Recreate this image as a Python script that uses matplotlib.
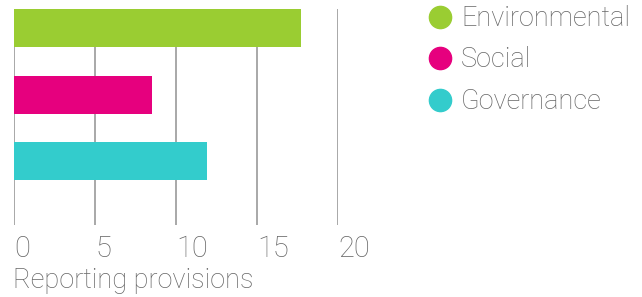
import matplotlib
matplotlib.use("Agg")
import matplotlib.pyplot as plt
from matplotlib.lines import Line2D

categories = ["Environmental", "Social", "Governance"]
values = [17.7, 8.5, 11.9]
colors = ["#9ACD32", "#E6007E", "#33CCCC"]
xticks = [0, 5, 10, 15, 20]
xlabel = "Reporting provisions"

plt.rcParams['font.family'] = ['Roboto', 'DejaVu Sans']
TEXT = "#666666"

fig = plt.figure(figsize=(6.42, 2.97), dpi=100)
ax = fig.add_axes([14/642, 1-225/297, (338-14)/642, (225-9)/297])

ypos = list(range(len(categories)))
ax.barh(ypos, values, height=0.57, color=colors, zorder=3)
ax.set_ylim(2.96, -0.285)
ax.set_xlim(0, 20)
ax.set_xticks(xticks)
ax.set_xticklabels([str(t) for t in xticks])
for lbl in ax.get_xticklabels():
    lbl.set_ha('left')
    lbl.set_fontweight('light')
ax.tick_params(axis='x', length=0, pad=7, labelsize=21, colors=TEXT)
ax.set_yticks([])
for s in ax.spines.values():
    s.set_visible(False)
ax.grid(axis='x', color='#999999', linewidth=1.2, zorder=0)
ax.set_axisbelow(True)

fig.text(13/642, 1-288/297, xlabel, fontsize=19.5, color=TEXT, fontweight='light',
         ha='left', va='baseline')

# legend drawn manually
baselines = [26, 67, 109]
for cat, col, b in zip(categories, colors, baselines):
    yc = b - 9
    fig.add_artist(Line2D([440/642], [1-yc/297], marker='o', linestyle='none',
                          markersize=16, markerfacecolor=col, markeredgecolor=col,
                          transform=fig.transFigure))
    fig.text(461/642, 1-b/297, cat, fontsize=19.5, color=TEXT, fontweight='light',
             ha='left', va='baseline')

fig.savefig("out.png", dpi=100)
